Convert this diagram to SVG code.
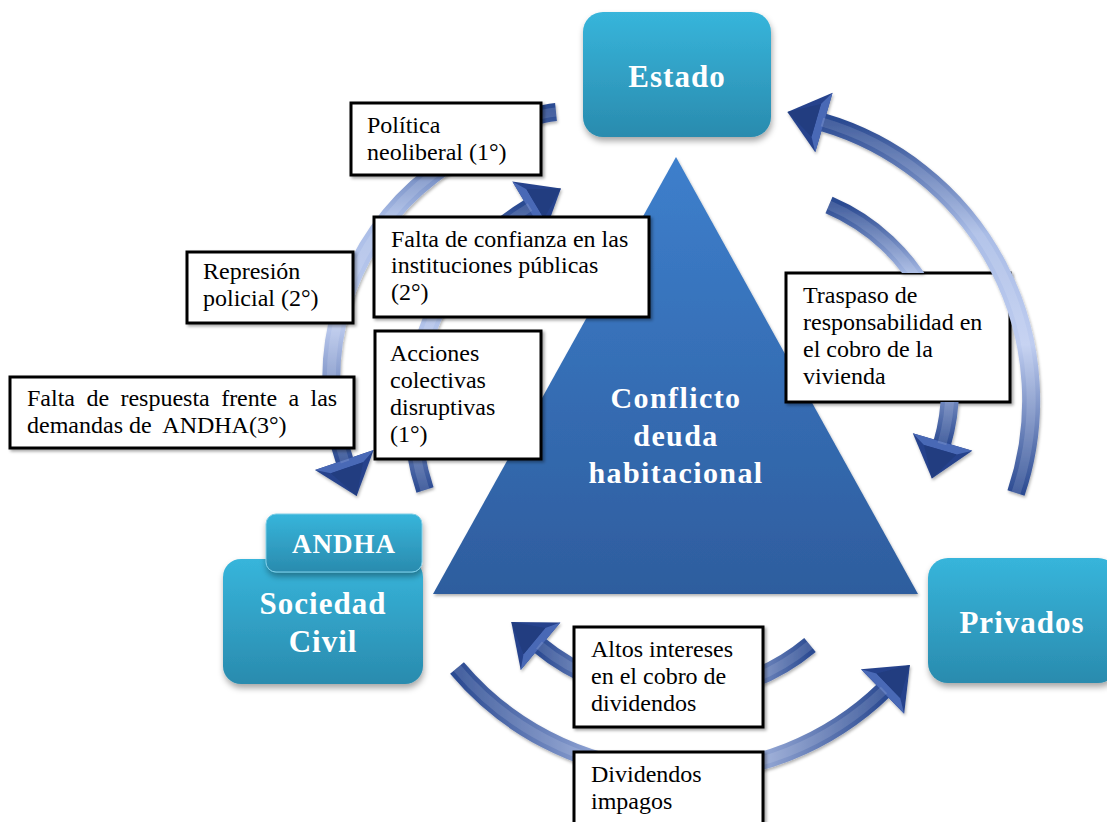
<svg xmlns="http://www.w3.org/2000/svg" width="1107" height="822" viewBox="0 0 1107 822">
<style>
.nodeR{fill:url(#gTeal);filter:url(#shN)}
.nodeT{font-family:"Liberation Serif",serif;font-weight:bold;fill:#fff;text-anchor:middle;font-size:31px;letter-spacing:1px}
.triT{font-family:"Liberation Serif",serif;font-weight:bold;fill:#fff;text-anchor:middle;font-size:30px;letter-spacing:1.4px}
.box{fill:#fff;stroke:#000;stroke-width:3;filter:url(#shB)}
.boxT{font-family:"Liberation Serif",serif;font-size:24px;fill:#000}
.shaftV{fill:none;stroke:url(#gArcV);stroke-width:18;marker-end:url(#ah)}
.shaftH{fill:none;stroke:url(#gArcH);stroke-width:18;marker-end:url(#ah)}
.hl{fill:none;stroke:#fff;stroke-width:9;stroke-opacity:0.13}
</style>
<defs>
<linearGradient id="gTeal" x1="0" y1="0" x2="0" y2="1">
<stop offset="0" stop-color="#37B5DB"/><stop offset="1" stop-color="#2A8BAE"/>
</linearGradient>
<linearGradient id="gTri" x1="0" y1="0" x2="0" y2="1">
<stop offset="0" stop-color="#3D7FCC"/><stop offset="1" stop-color="#2E5D9E"/>
</linearGradient>
<linearGradient id="gArcV" x1="0" y1="0" x2="0" y2="1">
<stop offset="0" stop-color="#2C4B92"/><stop offset="0.3" stop-color="#A9BCE6"/><stop offset="0.6" stop-color="#BFCDF0"/><stop offset="1" stop-color="#2C4B92"/>
</linearGradient>
<linearGradient id="gArcH" x1="0" y1="0" x2="1" y2="0">
<stop offset="0" stop-color="#2C4B92"/><stop offset="0.45" stop-color="#B4C4EC"/><stop offset="0.6" stop-color="#BFCDF0"/><stop offset="1" stop-color="#2C4B92"/>
</linearGradient>
<marker id="ah" markerUnits="userSpaceOnUse" markerWidth="90" markerHeight="90" viewBox="-45 -45 90 90" refX="0" refY="0" orient="auto" overflow="visible">
<polygon points="-2,-31 36,0 -2,31" fill="#26438C"/>
<polygon points="-2,-31 6,-17 6,17 -2,31" fill="#4A69B6"/>
<polygon points="6,-17 36,0 6,17" fill="#213C80"/>
</marker>
<filter id="shN" x="-20%" y="-20%" width="140%" height="150%">
<feDropShadow dx="1" dy="4" stdDeviation="3" flood-color="#000" flood-opacity="0.35"/>
</filter>
<filter id="shB" x="-10%" y="-10%" width="120%" height="130%">
<feDropShadow dx="2" dy="2" stdDeviation="1.5" flood-color="#000" flood-opacity="0.35"/>
</filter>
<filter id="shA" x="-20%" y="-20%" width="140%" height="140%">
<feDropShadow dx="1" dy="2" stdDeviation="1.5" flood-color="#000" flood-opacity="0.3"/>
</filter>
<mask id="mTraspaso" maskUnits="userSpaceOnUse" x="0" y="0" width="1107" height="822">
<rect x="0" y="0" width="1107" height="822" fill="#fff"/>
<rect x="786" y="273" width="224" height="129" fill="#000"/>
</mask>
</defs>
<rect x="0" y="0" width="1107" height="822" fill="#fff"/>

<g id="node-conflicto">
<polygon points="676,157 433,594 918,594" fill="url(#gTri)" filter="url(#shA)"/>
<text class="triT" x="676" y="408">Conflicto</text>
<text class="triT" x="676" y="446">deuda</text>
<text class="triT" x="676" y="483">habitacional</text>
</g>

<g id="node-estado">
<rect class="nodeR" x="583" y="12" width="188" height="125" rx="20"/>
<text class="nodeT" x="677" y="87">Estado</text>
</g>

<g id="node-sociedad">
<rect class="nodeR" x="223" y="559" width="200" height="125" rx="18"/>
<text class="nodeT" x="323" y="614">Sociedad</text>
<text class="nodeT" x="323" y="652">Civil</text>
</g>

<g id="node-andha">
<rect class="nodeR" x="266" y="514" width="156" height="58" rx="10" stroke="#7FCDE6" stroke-width="1"/>
<text class="nodeT" x="344" y="553" style="font-size:27px">ANDHA</text>
</g>

<g id="node-privados">
<rect class="nodeR" x="928" y="558" width="190" height="125" rx="20"/>
<text class="nodeT" x="1022" y="633">Privados</text>
</g>

<g id="label-traspaso">
<rect class="box" x="786" y="273" width="224" height="129"/>
<text class="boxT" x="803" y="303">Traspaso de</text>
<text class="boxT" x="803" y="330">responsabilidad en</text>
<text class="boxT" x="803" y="357">el cobro de la</text>
<text class="boxT" x="803" y="384">vivienda</text>
</g>

<g id="connectors" filter="url(#shA)">
<path class="shaftV" d="M556,112 C516,116 464,151 432,175 A257,257 0 0 0 345,462"/>
<path class="hl" d="M556,112 C516,116 464,151 432,175 A257,257 0 0 0 345,462"/>
<path class="shaftV" d="M425,490 A241,241 0 0 1 530,207"/>
<path class="hl" d="M425,490 A241,241 0 0 1 530,207"/>
<path class="shaftV" d="M1016,493 A290,290 0 0 0 822,122"/>
<path class="hl" d="M1016,493 A290,290 0 0 0 822,122"/>
<g mask="url(#mTraspaso)">
<path class="shaftV" d="M829,205 A199,199 0 0 1 942,444"/>
<path class="hl" d="M829,205 A199,199 0 0 1 942,444"/>
</g>
<path class="shaftH" d="M810,645 A212,212 0 0 1 539,645"/>
<path class="hl" d="M810,645 A212,212 0 0 1 539,645"/>
<path class="shaftH" d="M457,668 A292,292 0 0 0 884,690"/>
<path class="hl" d="M457,668 A292,292 0 0 0 884,690"/>
</g>

<g id="label-politica">
<rect class="box" x="351" y="103" width="190" height="72"/>
<text class="boxT" x="367" y="133">Política</text>
<text class="boxT" x="367" y="160">neoliberal (1°)</text>
</g>

<g id="label-confianza">
<rect class="box" x="374" y="217" width="275" height="100"/>
<text class="boxT" x="391" y="247">Falta de confianza en las</text>
<text class="boxT" x="391" y="273">instituciones públicas</text>
<text class="boxT" x="391" y="300">(2°)</text>
</g>

<g id="label-represion">
<rect class="box" x="187" y="252" width="166" height="71"/>
<text class="boxT" x="203" y="279">Represión</text>
<text class="boxT" x="203" y="306">policial (2°)</text>
</g>

<g id="label-acciones">
<rect class="box" x="375" y="331" width="166" height="128"/>
<text class="boxT" x="390" y="361">Acciones</text>
<text class="boxT" x="390" y="388">colectivas</text>
<text class="boxT" x="390" y="415">disruptivas</text>
<text class="boxT" x="390" y="442">(1°)</text>
</g>

<g id="label-respuesta">
<rect class="box" x="10" y="377" width="344" height="71"/>
<text class="boxT" x="27" y="406" word-spacing="5.4">Falta de respuesta frente a las</text>
<text class="boxT" x="27" y="433" xml:space="preserve">demandas de  ANDHA(3°)</text>
</g>

<g id="label-altos">
<rect class="box" x="574" y="627" width="189" height="100"/>
<text class="boxT" x="591" y="657">Altos intereses</text>
<text class="boxT" x="591" y="684">en el cobro de</text>
<text class="boxT" x="591" y="711">dividendos</text>
</g>

<g id="label-impagos">
<rect class="box" x="574" y="752" width="189" height="80"/>
<text class="boxT" x="591" y="782">Dividendos</text>
<text class="boxT" x="591" y="809">impagos</text>
</g>
</svg>
